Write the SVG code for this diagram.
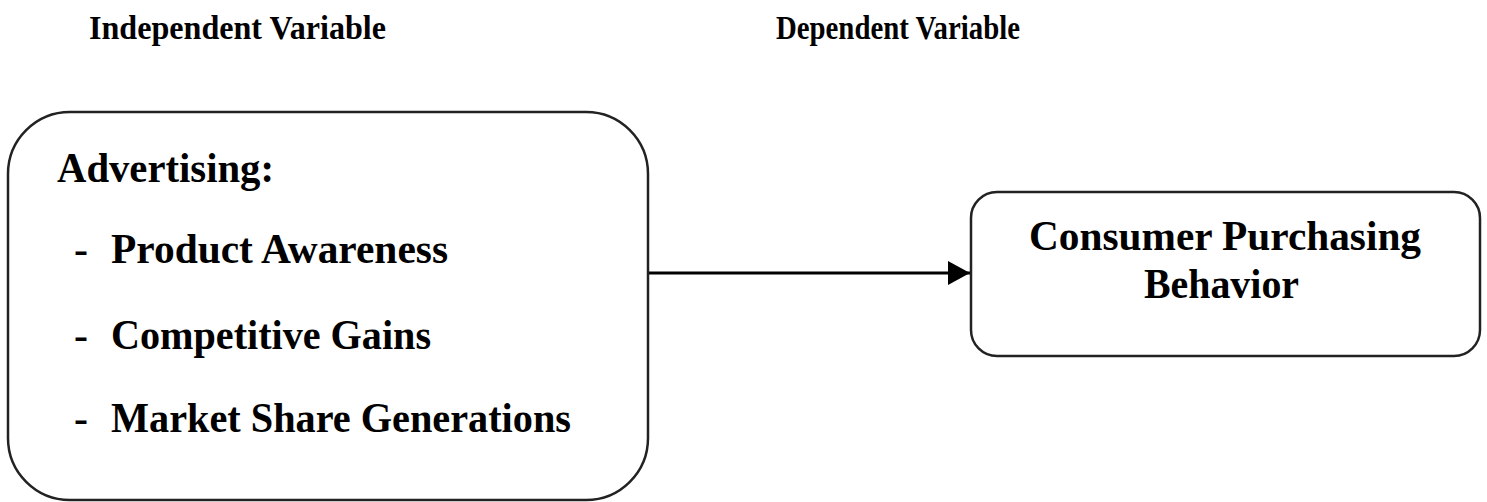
<svg xmlns="http://www.w3.org/2000/svg" width="1487" height="502" viewBox="0 0 1487 502">
<defs>
<style>
.hdr{font-family:"Liberation Serif","Times New Roman",serif;font-weight:bold;font-size:33px;fill:#000}
.bt{font-family:"Liberation Serif","Times New Roman",serif;font-weight:bold;font-size:42px;fill:#000}
.box{fill:#fff;stroke:#222;stroke-width:2.5}
.conn{stroke:#000;stroke-width:3;fill:none}
</style>
<marker id="arr" markerUnits="userSpaceOnUse" markerWidth="24" markerHeight="24" refX="22" refY="12" orient="auto">
<path d="M0,0 L22,12 L0,24 Z" fill="#000"/>
</marker>
</defs>
<rect width="1487" height="502" fill="#fff"/>
<g id="headers">
<text class="hdr" x="89" y="39" textLength="297" lengthAdjust="spacingAndGlyphs">Independent Variable</text>
<text class="hdr" x="776" y="39" textLength="244" lengthAdjust="spacingAndGlyphs">Dependent Variable</text>
</g>
<g id="connectors">
<line class="conn" x1="649" y1="273" x2="970" y2="273" marker-end="url(#arr)"/>
</g>
<g id="node-advertising">
<rect class="box" x="8" y="112" width="640" height="388" rx="62" ry="62"/>
<text class="bt" x="57" y="182" textLength="217" lengthAdjust="spacingAndGlyphs">Advertising:</text>
<text class="bt" x="74" y="263">-</text>
<text class="bt" x="111" y="263" textLength="337" lengthAdjust="spacingAndGlyphs">Product Awareness</text>
<text class="bt" x="74" y="349">-</text>
<text class="bt" x="111" y="349" textLength="320" lengthAdjust="spacingAndGlyphs">Competitive Gains</text>
<text class="bt" x="74" y="432">-</text>
<text class="bt" x="111" y="432" textLength="460" lengthAdjust="spacingAndGlyphs">Market Share Generations</text>
</g>
<g id="node-consumer">
<rect class="box" x="971" y="192" width="509" height="164" rx="26" ry="26"/>
<text class="bt" x="1029" y="250" textLength="392" lengthAdjust="spacingAndGlyphs">Consumer Purchasing</text>
<text class="bt" x="1144" y="298" textLength="155" lengthAdjust="spacingAndGlyphs">Behavior</text>
</g>
</svg>
